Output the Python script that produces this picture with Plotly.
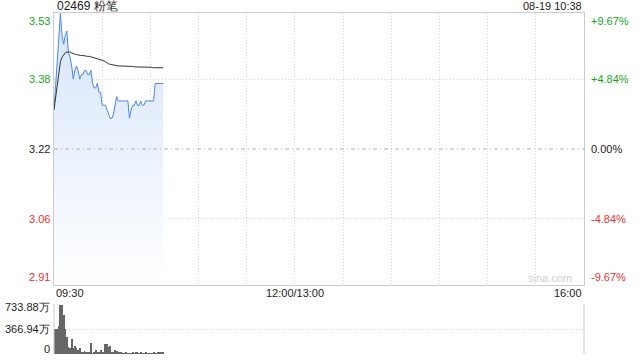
import plotly.graph_objects as go

# ---------------- data ----------------
title_text = "02469 粉笔"
stamp_text = "08-19 10:38"
prev_close = 3.22
minutes = list(range(69))  # minutes since 09:30
price = [3.31, 3.37, 3.43, 3.48, 3.53, 3.48, 3.46, 3.48, 3.49, 3.44,
         3.43, 3.41, 3.38, 3.40, 3.41, 3.40, 3.38, 3.39, 3.39, 3.40,
         3.40, 3.39, 3.39, 3.40, 3.37, 3.36, 3.36, 3.37, 3.35, 3.35,
         3.32, 3.32, 3.32, 3.31, 3.30, 3.29, 3.29, 3.30, 3.32, 3.34,
         3.33, 3.33, 3.33, 3.33, 3.33, 3.33, 3.33, 3.29, 3.31, 3.32,
         3.32, 3.33, 3.32, 3.32, 3.33, 3.32, 3.32, 3.33, 3.33, 3.33,
         3.33, 3.33, 3.33, 3.37, 3.37, 3.37, 3.37, 3.37, 3.37]
avg_price = [3.31, 3.34, 3.37, 3.39, 3.42, 3.43, 3.435, 3.44, 3.442, 3.442,
             3.442, 3.440, 3.438, 3.437, 3.436, 3.435, 3.435, 3.434, 3.434, 3.433,
             3.433, 3.432, 3.432, 3.431, 3.430, 3.429, 3.428, 3.427, 3.426, 3.425,
             3.424, 3.422, 3.420, 3.417, 3.415, 3.414, 3.413, 3.412, 3.411, 3.411,
             3.410, 3.410, 3.410, 3.410, 3.409, 3.409, 3.409, 3.409, 3.409, 3.409,
             3.408, 3.408, 3.408, 3.408, 3.408, 3.407, 3.407, 3.407, 3.407, 3.407,
             3.407, 3.407, 3.406, 3.406, 3.406, 3.406, 3.406, 3.406, 3.406]
volume = [362, 362, 362, 411, 724, 724, 572, 362, 245, 108,
          83, 215, 83, 117, 83, 59, 83, 34, 20, 44,
          20, 20, 20, 166, 10, 34, 59, 20, 34, 59,
          20, 34, 147, 147, 108, 117, 34, 34, 59, 49,
          34, 20, 34, 10, 10, 20, 10, 10, 10, 20,
          10, 20, 20, 10, 20, 10, 10, 20, 10, 10,
          10, 10, 20, 10, 10, 20, 34, 20, 20]  # 万
price_ticks = [3.53, 3.38, 3.22, 3.06, 2.91]
pct_labels = ["+9.67%", "+4.84%", "0.00%", "-4.84%", "-9.67%"]
vol_ticks = [733.88, 366.94, 0]
vol_labels = ["733.88万", "366.94万", "0"]
time_ticks = [0, 150, 330]
time_labels = ["09:30", "12:00/13:00", "16:00"]

# ---------------- styling ----------------
W, H = 640, 360
GREEN = "#1aa51a"
RED = "#f03030"
DARK = "#222222"
GRID = "#d6d6d6"
FONT = "Liberation Sans, Arial, sans-serif"

def py(pixel_y):
    return 1 - pixel_y / H

def px(pixel_x):
    return pixel_x / W

x0p, x1p = 54, 584
p_top, p_bot = 13, 285
v_top, v_bot = 304, 354
span = 0.3113
ymin, ymax = prev_close - span, prev_close + span

fig = go.Figure()

fig.add_trace(go.Scatter(
    x=minutes, y=price, mode="lines",
    line=dict(color="#4a86e8", width=1),
    fill="tozeroy",
    fillgradient=dict(type="vertical", start=ymin, stop=ymax,
                      colorscale=[[0, "rgba(255,255,255,1)"], [1, "rgba(214,228,250,1)"]]),
    xaxis="x", yaxis="y", hoverinfo="skip", showlegend=False))
fig.add_trace(go.Scatter(
    x=minutes, y=avg_price, mode="lines",
    line=dict(color="#333333", width=1),
    xaxis="x", yaxis="y", hoverinfo="skip", showlegend=False))
fig.add_trace(go.Bar(
    x=minutes, y=volume, marker=dict(color="#666666", line=dict(width=0)),
    width=0.6, xaxis="x2", yaxis="y2", hoverinfo="skip", showlegend=False))

fig.update_layout(
    width=W, height=H, margin=dict(l=0, r=0, t=0, b=0),
    paper_bgcolor="white", plot_bgcolor="white",
    font=dict(family=FONT, size=11, color=DARK),
    bargap=0,
    xaxis=dict(domain=[px(x0p), px(x1p)], range=[0, 330], anchor="y",
               tickvals=list(range(0, 331, 30)), showticklabels=False, ticks="",
               showgrid=True, gridcolor=GRID, griddash="1px,2px", gridwidth=1,
               showline=True, linecolor="#cccccc", mirror=True, zeroline=False),
    yaxis=dict(domain=[py(p_bot), py(p_top)], range=[ymin, ymax], anchor="x",
               tickvals=[price_ticks[1], price_ticks[3]], showticklabels=False, ticks="",
               showgrid=True, gridcolor=GRID, griddash="1px,2px", gridwidth=1,
               showline=True, linecolor="#cccccc", mirror=True, zeroline=False),
    xaxis2=dict(domain=[px(x0p), px(x1p)], range=[0, 330], anchor="y2",
                showticklabels=False, ticks="", showgrid=False, zeroline=False,
                showline=False),
    yaxis2=dict(domain=[py(v_bot), py(v_top)], range=[0, vol_ticks[0]], anchor="x2",
                tickvals=vol_ticks, showticklabels=False, ticks="",
                showgrid=True, gridcolor=GRID, griddash="1px,2px", gridwidth=1,
                zeroline=False, showline=False),
)

# prev close dash-dot line
fig.add_shape(type="line", xref="x domain", yref="y", x0=0, x1=1,
              y0=prev_close, y1=prev_close,
              line=dict(color="#b0b0b0", width=1, dash="4px,3px,1px,3px"))
# volume pane side borders
for xx in (0, 1):
    fig.add_shape(type="line", xref="x2 domain", yref="y2 domain",
                  x0=xx, x1=xx, y0=0, y1=1, line=dict(color="#cccccc", width=1))

ann = []
# header
ann.append(dict(text=title_text, x=px(55), y=py(6), xref="paper", yref="paper",
                xanchor="left", yanchor="middle", showarrow=False,
                font=dict(size=12, color=DARK)))
ann.append(dict(text=stamp_text, x=px(584), y=py(6), xref="paper", yref="paper",
                xanchor="right", yanchor="middle", showarrow=False,
                font=dict(size=11, color=DARK)))
# price / percent labels
shifts = [-7, 0, 0, 0, 7]
for i, (pv, pl) in enumerate(zip(price_ticks, pct_labels)):
    col = GREEN if i < 2 else (DARK if i == 2 else RED)
    ann.append(dict(text=f"{pv:.2f}", x=px(52), y=pv, xref="paper", yref="y",
                    xanchor="right", yanchor="middle", yshift=shifts[i], showarrow=False,
                    font=dict(size=11, color=col)))
    ann.append(dict(text=pl, x=px(589), y=pv, xref="paper", yref="y",
                    xanchor="left", yanchor="middle", yshift=shifts[i], showarrow=False,
                    font=dict(size=11, color=col)))
# time labels
anchors = ["left", "center", "right"]
for t, tl, a in zip(time_ticks, time_labels, anchors):
    ann.append(dict(text=tl, x=t, y=py(293), xref="x", yref="paper",
                    xanchor=a, yanchor="middle", showarrow=False,
                    font=dict(size=11, color=DARK)))
# volume labels
vshift = [-3, 0, 5]
for i, (vv, vl) in enumerate(zip(vol_ticks, vol_labels)):
    ann.append(dict(text=vl, x=px(52), y=vv, xref="paper", yref="y2",
                    xanchor="right", yanchor="middle", yshift=vshift[i], showarrow=False,
                    font=dict(size=11, color=DARK)))
# watermark
ann.append(dict(text="sina.com", x=px(574), y=py(278), xref="paper", yref="paper",
                xanchor="right", yanchor="middle", showarrow=False,
                font=dict(size=11, color="#cfcfcf")))
fig.update_layout(annotations=ann)

fig.write_html("out.html")
